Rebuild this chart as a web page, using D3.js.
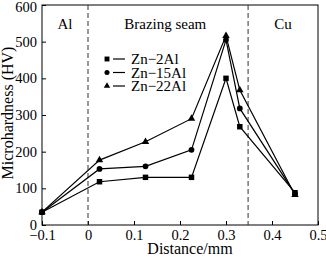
<!DOCTYPE html>
<html>
  <head>
    <meta charset="utf-8">
    <script src="https://d3js.org/d3.v7.min.js"></script>
    <style>
      body { margin: 0; background: #fff; }
      text { font-family: "Liberation Serif", "Times New Roman", serif; fill: #000; }
    </style>
  </head>
  <body>
    <svg id="canvas" width="326" height="257"></svg>
  <script>
    // distance (mm) of each measurement point
    const distance = [-0.1, 0.025, 0.125, 0.225, 0.3, 0.33, 0.45]
    const zn2Al = [35, 118, 130, 130, 400, 268, 88]
    const zn15Al = [35, 153, 160, 205, 505, 318, 85]
    const zn22Al = [35, 177, 227, 290, 516, 368, 82]
    const seriesNames = ['Zn\u22122Al', 'Zn\u221215Al', 'Zn\u221222Al']
    const markers = ['square', 'circle', 'triangle']
    const xTicks = [-0.1, 0, 0.1, 0.2, 0.3, 0.4, 0.5]
    const yTicks = [0, 100, 200, 300, 400, 500, 600]
    const boundaries = [0, 0.348]
    const regions = [['Al', -0.05], ['Brazing seam', 0.168], ['Cu', 0.424]]

    const margin = { top: 5, right: 8, bottom: 32, left: 42 }
    const svg = d3.select('#canvas')
    const width = 326 - margin.left - margin.right
    const height = 257 - margin.top - margin.bottom
    const g = svg.append('g').attr('transform', `translate(${margin.left}, ${margin.top})`)

    const x = d3.scaleLinear().domain([-0.1, 0.5]).range([0, width])
    const y = d3.scaleLinear().domain([0, 600]).range([height, 0])

    // frame
    g.append('rect').attr('width', width).attr('height', height)
      .attr('fill', 'none').attr('stroke', '#000').attr('stroke-width', 1)

    // axes with inward ticks
    const fmtX = d => d === 0 ? '0' : d3.format('.1f')(d).replace('-', '\u2212')
    const xAxis = g.append('g').attr('transform', `translate(0, ${height})`)
      .call(d3.axisBottom(x).tickValues(xTicks).tickSizeInner(-4).tickSizeOuter(0).tickPadding(5).tickFormat(fmtX))
    const yAxis = g.append('g')
      .call(d3.axisLeft(y).tickValues(yTicks).tickSizeInner(-4).tickSizeOuter(0).tickPadding(5))
    ;[xAxis, yAxis].forEach(a => {
      a.select('.domain').remove()
      a.selectAll('text').style('font-size', '14.5px').attr('fill', '#000')
      a.selectAll('line').attr('stroke', '#000')
    })
    yAxis.select('.tick:last-of-type text').attr('dy', '0.45em')

    // region boundaries
    g.selectAll('.bound').data(boundaries).enter().append('line')
      .attr('x1', d => x(d)).attr('x2', d => x(d))
      .attr('y1', 0).attr('y2', height)
      .attr('stroke', '#333').attr('stroke-width', 1).attr('stroke-dasharray', '5,3')

    g.selectAll('.region').data(regions).enter().append('text')
      .attr('x', d => x(d[1])).attr('y', 24)
      .attr('text-anchor', 'middle').style('font-size', '15px')
      .text(d => d[0])

    // series
    const series = [zn2Al, zn15Al, zn22Al].map((vals, i) => ({
      name: seriesNames[i], marker: markers[i],
      points: vals.map((v, j) => [distance[j], v])
    }))

    const line = d3.line().x(d => x(d[0])).y(d => y(d[1]))
    const symbolOf = m => m === 'square' ? d3.symbolSquare : m === 'circle' ? d3.symbolCircle : d3.symbolTriangle
    const sizeOf = m => m === 'square' ? 30 : m === 'circle' ? 26 : 24

    series.forEach(s => {
      g.append('path').datum(s.points)
        .attr('d', line).attr('fill', 'none')
        .attr('stroke', '#000').attr('stroke-width', 1.2)
      g.selectAll(null).data(s.points).enter().append('path')
        .attr('transform', d => `translate(${x(d[0])}, ${y(d[1])})`)
        .attr('d', d3.symbol().type(symbolOf(s.marker)).size(sizeOf(s.marker)))
        .attr('fill', '#000')
    })

    // legend
    const legend = g.append('g').attr('transform', 'translate(65, 54)')
    series.forEach((s, i) => {
      const row = legend.append('g').attr('transform', `translate(0, ${i * 13.5})`)
      row.append('path')
        .attr('d', d3.symbol().type(symbolOf(s.marker)).size(sizeOf(s.marker) - 6))
        .attr('fill', '#000')
      row.append('line').attr('x1', 6).attr('x2', 18).attr('y1', 0).attr('y2', 0)
        .attr('stroke', '#000').attr('stroke-width', 1.2)
      row.append('text').attr('x', 24).attr('y', 5)
        .style('font-size', '15px').text(s.name)
    })

    // axis titles
    svg.append('text')
      .attr('transform', `translate(13, ${margin.top + height / 2 - 2}) rotate(-90)`)
      .attr('text-anchor', 'middle').style('font-size', '16px')
      .text('Microhardness (HV)')
    svg.append('text')
      .attr('x', 190).attr('y', 254)
      .attr('text-anchor', 'middle').style('font-size', '16px')
      .text('Distance/mm')
  </script>
  </body>
</html>
